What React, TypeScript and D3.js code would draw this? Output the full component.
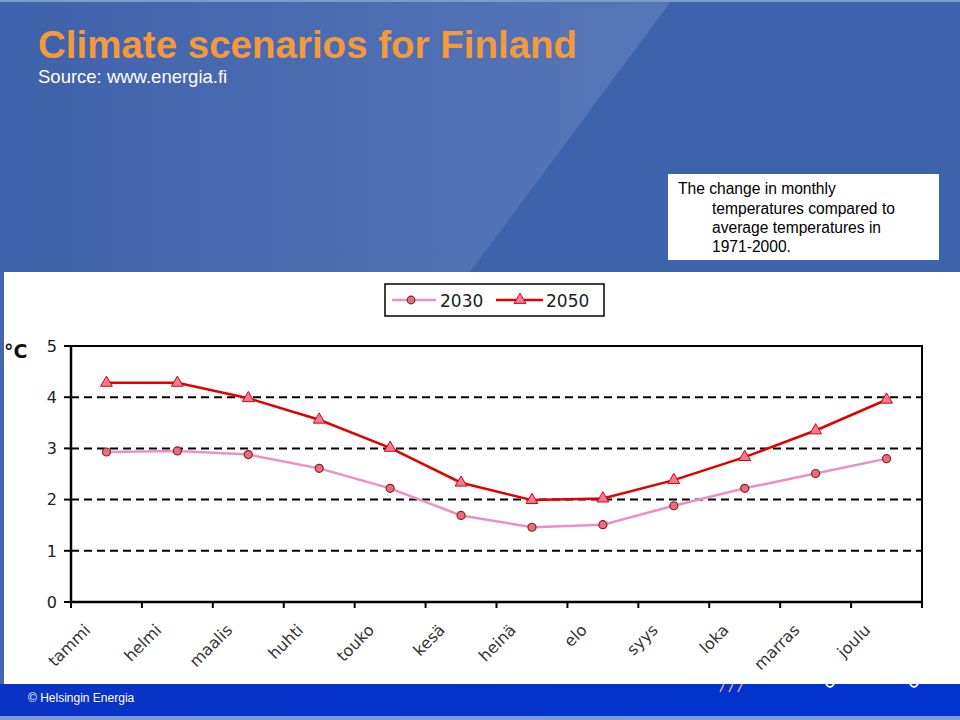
import React from "react";
import * as d3 from "d3";

const months = ["tammi", "helmi", "maalis", "huhti", "touko", "kesä", "heinä", "elo", "syys", "loka", "marras", "joulu"];
const values2030 = [2.93, 2.95, 2.88, 2.61, 2.22, 1.69, 1.46, 1.51, 1.88, 2.22, 2.51, 2.8];
const values2050 = [4.28, 4.28, 3.98, 3.56, 3.01, 2.33, 1.99, 2.02, 2.38, 2.83, 3.35, 3.95];
const yTicks = [0, 1, 2, 3, 4, 5];
const gridTicks = [1, 2, 3, 4];
const seriesNames = ["2030", "2050"];

const W = 960;
const H = 720;
const plot = { left: 71, right: 922, top: 346, bottom: 602 };

export default function App() {
  const x = d3.scaleBand<string>().domain(months).range([plot.left, plot.right]).padding(0);
  const y = d3.scaleLinear().domain([0, 5]).range([plot.bottom, plot.top]);
  const cx = (i: number) => (x(months[i]) as number) + x.bandwidth() / 2;
  const line = d3
    .line<number>()
    .x((_, i) => cx(i))
    .y((d) => y(d));
  const tri = d3.symbol().type(d3.symbolTriangle).size(60)() as string;

  const pink = "#ef8ec6";
  const red = "#e00000";
  const circFill = "#e5707a";
  const circStroke = "#8a1e28";
  const triFill = "#f27a9a";

  return (
    <div style={{ position: "fixed", left: 0, top: 0, width: W, height: H }}>
      <svg width={W} height={H} style={{ display: "block" }}>
        <defs>
          <linearGradient id="bg" x1="0" y1="0" x2="1" y2="0">
            <stop offset="0" stopColor="#3e62ab" />
            <stop offset="0.6" stopColor="#5474b6" />
            <stop offset="1" stopColor="#5a79b9" />
          </linearGradient>
          <linearGradient id="footer" x1="0" y1="0" x2="1" y2="0">
            <stop offset="0" stopColor="#0a33c4" />
            <stop offset="1" stopColor="#0033d0" />
          </linearGradient>
        </defs>
        {/* slide background */}
        <rect x={0} y={0} width={W} height={H} fill="#4267b0" />
        <rect x={0} y={0} width={W} height={272} fill="url(#bg)" />
        <polygon points="672,0 960,0 960,272 470,272" fill="#3c63ab" />
        <rect x={0} y={0} width={W} height={2} fill="#7f9bcc" />
        {/* white content area */}
        <rect x={4} y={272} width={956} height={412} fill="#ffffff" />
        {/* footer */}
        <rect x={0} y={684} width={W} height={32} fill="url(#footer)" />
        <rect x={0} y={716} width={W} height={4} fill="#7d9ad8" />
        <text x={28} y={702} fill="#ffffff" fontFamily="Liberation Sans, Arial, sans-serif" fontSize={12}>
          © Helsingin Energia
        </text>
        <g stroke="#e8a0c8" strokeWidth={1.5}>
          <line x1={720} y1={692} x2={724} y2={684} />
          <line x1={729} y1={692} x2={733} y2={684} />
          <line x1={738} y1={692} x2={742} y2={684} />
        </g>
        <path d="M826,684 q4,6 8,0" stroke="#ffffff" strokeWidth={2} fill="none" />
        <path d="M910,684 q4,6 8,0" stroke="#ffffff" strokeWidth={2} fill="none" />

        {/* title */}
        <text x={38} y={58} fill="#f59a3c" fontFamily="Liberation Sans, Arial, sans-serif" fontWeight="bold" fontSize={38.5}>
          Climate scenarios for Finland
        </text>
        <text x={38} y={83} fill="#ffffff" fontFamily="Liberation Sans, Arial, sans-serif" fontSize={18.5}>
          Source: www.energia.fi
        </text>

        {/* annotation box */}
        <rect x={668} y={174} width={271} height={86} fill="#ffffff" />
        <g fontFamily="Liberation Sans, Arial, sans-serif" fontSize={15.6} fill="#000">
          <text x={678} y={194}>The change in monthly</text>
          <text x={712} y={214}>temperatures compared to</text>
          <text x={712} y={233}>average temperatures in</text>
          <text x={712} y={252}>1971-2000.</text>
        </g>

        {/* legend */}
        <rect x={385} y={284} width={219} height={32} fill="#fff" stroke="#000" strokeWidth={1.5} />
        <line x1={392} x2={436} y1={300} y2={300} stroke={pink} strokeWidth={2.5} />
        <circle cx={411} cy={300} r={3.8} fill={circFill} stroke={circStroke} strokeWidth={1.2} />
        <text x={440} y={307} fontFamily="DejaVu Sans, Verdana, sans-serif" fontSize={17} fill="#222">
          {seriesNames[0]}
        </text>
        <line x1={496} x2={543} y1={300} y2={300} stroke={red} strokeWidth={2.5} />
        <path d={tri} transform="translate(520,300)" fill={triFill} stroke={red} strokeWidth={1} />
        <text x={546} y={307} fontFamily="DejaVu Sans, Verdana, sans-serif" fontSize={17} fill="#222">
          {seriesNames[1]}
        </text>

        {/* plot frame */}
        <rect
          x={plot.left}
          y={plot.top}
          width={plot.right - plot.left}
          height={plot.bottom - plot.top}
          fill="#fff"
          stroke="#000"
          strokeWidth={2}
        />
        {/* grid */}
        {gridTicks.map((t) => (
          <line
            key={t}
            x1={plot.left}
            x2={plot.right}
            y1={y(t)}
            y2={y(t)}
            stroke="#000"
            strokeWidth={2}
            strokeDasharray="8,5"
          />
        ))}
        {/* y axis */}
        <line x1={plot.left} x2={plot.left} y1={plot.top} y2={plot.bottom} stroke="#000" strokeWidth={2.5} />
        {yTicks.map((t) => (
          <g key={t}>
            <line x1={plot.left - 7} x2={plot.left} y1={y(t)} y2={y(t)} stroke="#000" strokeWidth={2} />
            <text
              x={plot.left - 14}
              y={y(t)}
              dy="0.36em"
              textAnchor="end"
              fontFamily="DejaVu Sans, Verdana, sans-serif"
              fontSize={16}
              fill="#222"
            >
              {t}
            </text>
          </g>
        ))}
        <text x={4} y={358} fontFamily="DejaVu Sans, Verdana, sans-serif" fontSize={19} fontWeight="bold" fill="#111">
          °C
        </text>
        {/* x axis */}
        <line x1={plot.left} x2={plot.right} y1={plot.bottom} y2={plot.bottom} stroke="#000" strokeWidth={2.5} />
        {months.concat(["end"]).map((m, i) => {
          const xx = plot.left + i * x.bandwidth();
          return <line key={"t" + i} x1={xx} x2={xx} y1={plot.bottom} y2={plot.bottom + 6} stroke="#000" strokeWidth={2} />;
        })}
        {months.map((m, i) => (
          <text
            key={m}
            transform={`translate(${cx(i) - 15},${plot.bottom + 29}) rotate(-45)`}
            textAnchor="end"
            fontFamily="DejaVu Sans, Verdana, sans-serif"
            fontSize={16}
            fill="#333"
          >
            {m}
          </text>
        ))}

        {/* series */}
        <path d={line(values2030) as string} fill="none" stroke={pink} strokeWidth={2.5} />
        <path d={line(values2050) as string} fill="none" stroke={red} strokeWidth={2.5} />
        {values2030.map((v, i) => (
          <circle key={"c" + i} cx={cx(i)} cy={y(v)} r={4} fill={circFill} stroke={circStroke} strokeWidth={1.2} />
        ))}
        {values2050.map((v, i) => (
          <path
            key={"p" + i}
            d={tri}
            transform={`translate(${cx(i)},${y(v)})`}
            fill={triFill}
            stroke={red}
            strokeWidth={1}
          />
        ))}
      </svg>
    </div>
  );
}
